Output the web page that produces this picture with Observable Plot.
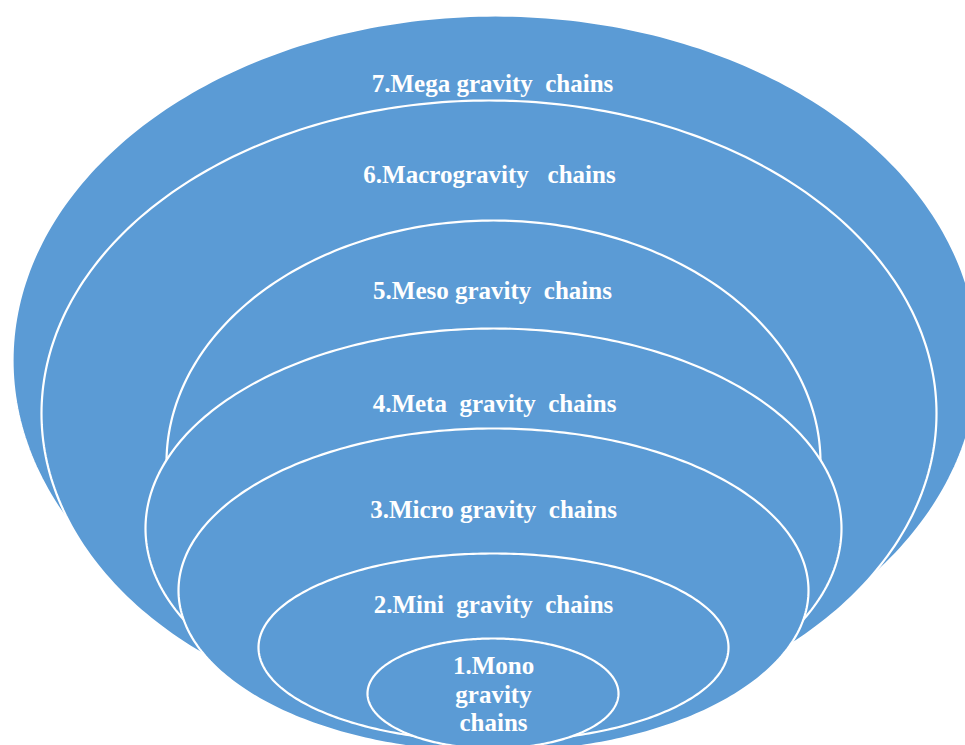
<!DOCTYPE html>
<html>
<head>
<meta charset="utf-8">
<script src="https://cdn.jsdelivr.net/npm/d3@7"></script>
<script src="https://cdn.jsdelivr.net/npm/@observablehq/plot@0.6"></script>
<style>
  html, body { margin: 0; padding: 0; background: #ffffff; overflow: hidden; }
  #chart svg text { white-space: pre; }
</style>
</head>
<body>
<div id="chart"></div>
<script>
// Levels, drawn from the outermost (7) to the innermost (1)
const levels = [7, 6, 5, 4, 3, 2, 1];
const labels = [
  "7.Mega gravity  chains",
  "6.Macrogravity   chains",
  "5.Meso gravity  chains",
  "4.Meta  gravity  chains",
  "3.Micro gravity  chains",
  "2.Mini  gravity  chains",
  "1.Mono\ngravity\nchains"
];
// Ellipse geometry in diagram units (top-down)
const centerX = [495, 488.5, 493, 493, 493, 493, 492.5];
const centerY = [360, 413, 462, 528, 590, 647, 693];
const radiusX = [483, 447.5, 327, 348, 315, 235, 125.5];
const radiusY = [345, 313, 242, 200, 162, 94, 55];
// Label anchor (vertical centre of the label block)
const labelX = [492, 489, 492, 494, 493, 493, 493];
const labelY = [82, 173, 289, 402, 508, 603, 693];

const N = 360;
const outline = (i) => d3.range(N).map(k => {
  const t = (2 * Math.PI * k) / N;
  return {level: levels[i], x: centerX[i] + radiusX[i] * Math.cos(t), y: centerY[i] + radiusY[i] * Math.sin(t)};
});

const labelData = levels.map((lv, i) => ({level: lv, text: labels[i], x: labelX[i], y: labelY[i]}));

const marks = levels.map((lv, i) =>
  Plot.line(outline(i), {
    x: "x", y: "y",
    curve: "linear-closed",
    fill: "#5B9BD5",
    stroke: "#ffffff",
    strokeWidth: 2.2,
    clip: true
  })
);

marks.push(
  Plot.text(labelData, {
    x: "x", y: "y", text: "text",
    fill: "#ffffff",
    fontFamily: "Liberation Serif",
    fontWeight: "bold",
    fontSize: 25,
    lineHeight: 1.13
  })
);

const chart = Plot.plot({
  width: 965,
  height: 745,
  margin: 0,
  x: {domain: [0, 965], range: [0, 965], axis: null},
  y: {domain: [0, 745], range: [0, 745], axis: null},
  style: {background: "#ffffff", overflow: "hidden"},
  marks
});
document.getElementById("chart").appendChild(chart);
</script>
</body>
</html>
